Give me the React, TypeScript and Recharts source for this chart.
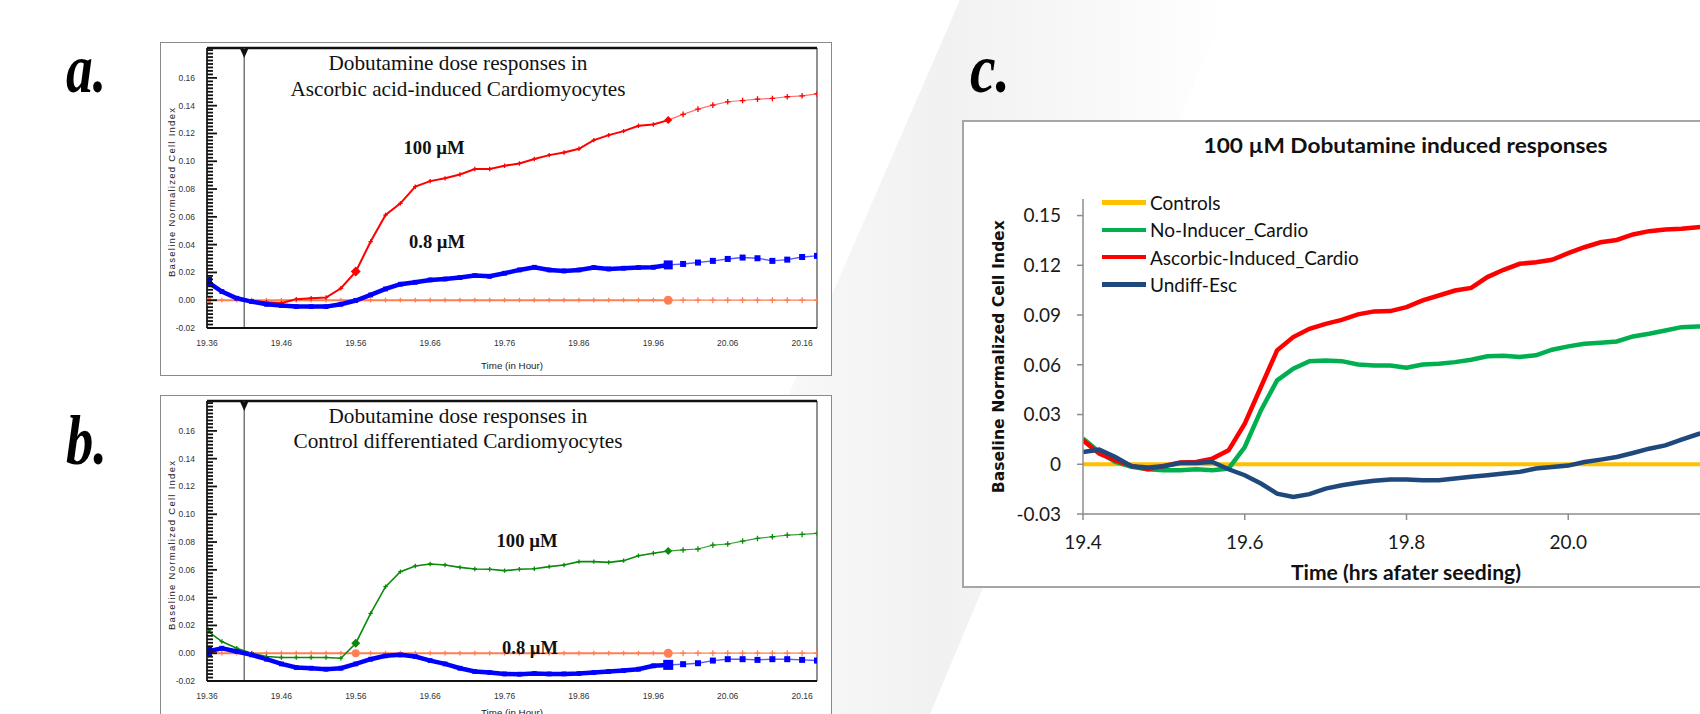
import React from 'react';
import {
  LineChart,
  Line,
  XAxis,
  YAxis,
  ReferenceArea,
  ReferenceLine,
  ReferenceDot,
  Legend,
} from 'recharts';

// panels a & b : instrument plots, sampled every 0.02 h
const TIME_AB = [
  19.36, 19.38, 19.4, 19.42, 19.44, 19.46, 19.48, 19.5, 19.52, 19.54, 19.56,
  19.58, 19.6, 19.62, 19.64, 19.66, 19.68, 19.7, 19.72, 19.74, 19.76, 19.78,
  19.8, 19.82, 19.84, 19.86, 19.88, 19.9, 19.92, 19.94, 19.96, 19.98, 20.0,
  20.02, 20.04, 20.06, 20.08, 20.1, 20.12, 20.14, 20.16, 20.18,
];
const A_RED_100 = [
  0.0146, 0.0062, 0.0014, -0.0005, -0.0014, -0.002, 0.0007, 0.0014, 0.0019,
  0.0086, 0.0206, 0.0422, 0.0613, 0.0697, 0.0817, 0.0857, 0.0877, 0.0905,
  0.0944, 0.0944, 0.0968, 0.0984, 0.1016, 0.1044, 0.1063, 0.109, 0.1152,
  0.1188, 0.1217, 0.1255, 0.1265, 0.1296, 0.1337, 0.1375, 0.1404, 0.1428,
  0.1437, 0.1447, 0.1452, 0.1464, 0.1471, 0.1485,
];
const A_BLUE_08 = [
  0.0134, 0.0062, 0.0014, -0.001, -0.0029, -0.0038, -0.0046, -0.0046, -0.0046,
  -0.0029, -0.0002, 0.0038, 0.0081, 0.0115, 0.0129, 0.0146, 0.0153, 0.0163,
  0.0177, 0.0172, 0.0194, 0.0218, 0.0237, 0.0218, 0.0211, 0.0218, 0.0235,
  0.0225, 0.023, 0.0235, 0.0237, 0.0254, 0.0261, 0.0271, 0.0283, 0.0297,
  0.0307, 0.0302, 0.0283, 0.0292, 0.0311, 0.0319,
];
const B_GREEN_100 = [
  0.0163, 0.0084, 0.0036, 0, -0.0024, -0.0031, -0.0031, -0.0031, -0.0031,
  -0.0036, 0.0072, 0.0287, 0.0479, 0.0587, 0.0628, 0.0642, 0.0635, 0.0618,
  0.0606, 0.0604, 0.0594, 0.0604, 0.0608, 0.0623, 0.0635, 0.0659, 0.0659,
  0.0654, 0.0666, 0.0702, 0.0719, 0.0735, 0.0743, 0.075, 0.0778, 0.0786,
  0.0807, 0.0826, 0.0838, 0.085, 0.0855, 0.0862,
];
const B_BLUE_08 = [
  0.0012, 0.0036, 0.0012, -0.0012, -0.0043, -0.0077, -0.0103, -0.0108, -0.0115,
  -0.0108, -0.0077, -0.0043, -0.0019, -0.0012, -0.0024, -0.0053, -0.0077,
  -0.0108, -0.0132, -0.0139, -0.0149, -0.0151, -0.0146, -0.0149, -0.0149,
  -0.0146, -0.0139, -0.0132, -0.0125, -0.0115, -0.0091, -0.0084, -0.0079,
  -0.0072, -0.0053, -0.0043, -0.0043, -0.0048, -0.0043, -0.0043, -0.0048,
  -0.0053,
];
const CTRL_AB = [
  0, 0, 0, 0, 0, 0, 0, 0, 0, 0, 0, 0, 0, 0, 0, 0, 0, 0, 0, 0, 0, 0, 0, 0, 0, 0,
  0, 0, 0, 0, 0, 0, 0, 0, 0, 0, 0, 0, 0, 0, 0, 0,
];
const AB_X_TICKS = [19.36, 19.46, 19.56, 19.66, 19.76, 19.86, 19.96, 20.06, 20.16];
const AB_Y_TICKS = [-0.02, 0, 0.02, 0.04, 0.06, 0.08, 0.1, 0.12, 0.14, 0.16];
const AB_X_DOMAIN = [19.36, 20.18];
const AB_Y_DOMAIN = [-0.02, 0.1815];
const DOSE_TIME = 19.41; // compound added
const SPLIT_T = 19.98; // logging gets sparser after this

// panel c : 100 uM responses
const TIME_C = [
  19.4, 19.42, 19.44, 19.46, 19.48, 19.5, 19.52, 19.54, 19.56, 19.58, 19.6,
  19.62, 19.64, 19.66, 19.68, 19.7, 19.72, 19.74, 19.76, 19.78, 19.8, 19.82,
  19.84, 19.86, 19.88, 19.9, 19.92, 19.94, 19.96, 19.98, 20.0, 20.02, 20.04,
  20.06, 20.08, 20.1, 20.12, 20.14, 20.16, 20.18,
];
const C_CONTROLS = [
  0, 0, 0, 0, 0, 0, 0, 0, 0, 0, 0, 0, 0, 0, 0, 0, 0, 0, 0, 0, 0, 0, 0, 0, 0, 0,
  0, 0, 0, 0, 0, 0, 0, 0, 0, 0, 0, 0, 0, 0,
];
const C_NO_INDUCER = [
  0.0155, 0.0074, 0.0014, -0.0016, -0.003, -0.0036, -0.0036, -0.003, -0.0036,
  -0.0026, 0.0104, 0.0325, 0.0506, 0.0576, 0.0622, 0.0626, 0.0622, 0.0602,
  0.0596, 0.0596, 0.0582, 0.0602, 0.0606, 0.0616, 0.063, 0.0651, 0.0655,
  0.0647, 0.0657, 0.0691, 0.0711, 0.0727, 0.0733, 0.0741, 0.0771, 0.0787,
  0.0807, 0.0827, 0.0831, 0.0834,
];
const C_ASCORBIC = [
  0.0145, 0.0064, 0.0024, -0.001, -0.003, -0.001, 0.001, 0.0014, 0.0034,
  0.0084, 0.0245, 0.0466, 0.0687, 0.0767, 0.0817, 0.0847, 0.0871, 0.0904,
  0.0922, 0.0924, 0.0948, 0.0988, 0.1018, 0.1048, 0.1064, 0.1129, 0.1173,
  0.1209, 0.1219, 0.1233, 0.1273, 0.1309, 0.1339, 0.1353, 0.1386, 0.1406,
  0.1416, 0.142, 0.143, 0.1435,
];
const C_UNDIFF = [
  0.0074, 0.0088, 0.0044, -0.0012, -0.002, -0.0012, 0.0008, 0.0008, 0.0014,
  -0.003, -0.0066, -0.0116, -0.0177, -0.0197, -0.018, -0.0147, -0.0127,
  -0.0112, -0.01, -0.0092, -0.0092, -0.0096, -0.0096, -0.0086, -0.0076,
  -0.0066, -0.0056, -0.0046, -0.0026, -0.0016, -0.0008, 0.0014, 0.0028,
  0.0044, 0.0068, 0.0094, 0.0114, 0.0149, 0.0181, 0.0205,
];
const C_SERIES = ['Controls', 'No-Inducer_Cardio', 'Ascorbic-Induced_Cardio', 'Undiff-Esc'];
const C_X_TICKS = [19.4, 19.6, 19.8, 20.0];
const C_Y_TICKS = [-0.03, 0, 0.03, 0.06, 0.09, 0.12, 0.15];

const SANS = 'Liberation Sans, Arial, sans-serif';
const SERIF = 'Liberation Serif, Times New Roman, serif';
const CALIBRI = 'Lato, Carlito, sans-serif';

// ruler ticks on the instrument y axis (every 0.0025, labelled every 0.02)
const AB_MINOR: number[] = [];
for (let v = -0.02; v <= 0.1801; v += 0.0025) AB_MINOR.push(+v.toFixed(4));

function AbYTick(p: any) {
  const { x, y, payload } = p;
  const v = payload.value;
  const major = AB_Y_TICKS.some((m) => Math.abs(m - v) < 1e-6);
  const plotLeft = x + 12; // tickSize + tickMargin
  return (
    <g>
      <line x1={plotLeft} x2={plotLeft + (major ? 10 : 6)} y1={y} y2={y} stroke="#111" strokeWidth={1.8} />
      {major && (
        <text x={x} y={y} dy={3} textAnchor="end" fontSize={8.5} fill="#333" fontFamily={SANS}>
          {v.toFixed(2)}
        </text>
      )}
    </g>
  );
}

type Shape = 'plus' | 'square' | 'circle' | 'diamond';
type Big = { t: number; shape: Shape; r: number };

function drawShape(key: string, shape: Shape, cx: number, cy: number, s: number, color: string) {
  if (shape === 'plus')
    return (
      <path key={key} d={`M${cx - s},${cy}H${cx + s}M${cx},${cy - s}V${cy + s}`} stroke={color} strokeWidth={1.3} fill="none" />
    );
  if (shape === 'square')
    return <rect key={key} x={cx - s} y={cy - s} width={s * 2} height={s * 2} fill={color} />;
  if (shape === 'circle') return <circle key={key} cx={cx} cy={cy} r={s} fill={color} />;
  return (
    <path key={key} d={`M${cx},${cy - s}L${cx + s},${cy}L${cx},${cy + s}L${cx - s},${cy}Z`} fill={color} />
  );
}

function markerDot(color: string, shape: Shape, r: number, bigs: Big[] = []) {
  return (p: any) => {
    const { cx, cy, index, payload, value } = p;
    const key = `m-${index}`;
    if (cx == null || cy == null || value == null || payload == null) return <g key={key} />;
    const big = bigs.find((b) => Math.abs(b.t - payload.t) < 1e-6);
    return drawShape(key, big ? big.shape : shape, cx, cy, big ? big.r : r, color);
  };
}

type Trace = {
  key: string;
  values: number[];
  color: string;
  sparseColor: string;
  shape: Shape;
  denseWidth: number;
  sparseWidth: number;
  r: number;
  bigs: Big[];
};

function buildRows(traces: Trace[]) {
  return TIME_AB.map((t, i) => {
    const row: Record<string, number | null> = { t };
    traces.forEach((tr) => {
      row[tr.key + 'D'] = t <= SPLIT_T + 1e-9 ? tr.values[i] : null;
      row[tr.key + 'S'] = t >= SPLIT_T - 1e-9 ? tr.values[i] : null;
    });
    return row;
  });
}

function InstrumentPanel({ traces }: { traces: Trace[] }) {
  const rows = buildRows(traces);
  return (
    <LineChart width={672} height={334} data={rows} margin={{ top: 6, right: 15, left: 0, bottom: 0 }}>
      <XAxis
        dataKey="t"
        type="number"
        domain={AB_X_DOMAIN}
        ticks={AB_X_TICKS}
        interval={0}
        allowDataOverflow
        tickFormatter={(v: number) => v.toFixed(2)}
        height={48}
        tickLine={false}
        tickSize={8}
        tickMargin={4}
        axisLine={{ stroke: '#111', strokeWidth: 2 }}
        tick={{ fontSize: 8.5, fill: '#333', fontFamily: SANS }}
      />
      <YAxis
        yAxisId="main"
        type="number"
        width={47}
        domain={AB_Y_DOMAIN}
        allowDataOverflow
        ticks={AB_MINOR}
        interval={0}
        tickLine={false}
        axisLine={{ stroke: '#111', strokeWidth: 1.5 }}
        tickSize={8}
        tickMargin={4}
        tick={AbYTick}
      />
      <ReferenceArea
        yAxisId="main"
        x1={AB_X_DOMAIN[0]}
        x2={AB_X_DOMAIN[1]}
        y1={AB_Y_DOMAIN[0]}
        y2={AB_Y_DOMAIN[1]}
        fill="none"
        stroke="#222"
        strokeWidth={1}
      />
      <ReferenceLine yAxisId="main" y={AB_Y_DOMAIN[1]} stroke="#111" strokeWidth={2.5} />
      <ReferenceLine yAxisId="main" x={DOSE_TIME} stroke="#555" strokeWidth={1.2} />
      <ReferenceDot
        yAxisId="main"
        x={DOSE_TIME}
        y={AB_Y_DOMAIN[1]}
        shape={(p: any) => (
          <path d={`M${p.cx - 4},${p.cy + 1}L${p.cx + 4},${p.cy + 1}L${p.cx},${p.cy + 10}Z`} fill="#111" />
        )}
      />
      {traces.flatMap((tr) => [
        <Line
          key={tr.key + 'D'}
          yAxisId="main"
          dataKey={tr.key + 'D'}
          stroke={tr.color}
          strokeWidth={tr.denseWidth}
          dot={markerDot(tr.color, tr.shape, tr.r, tr.bigs)}
          activeDot={false}
          isAnimationActive={false}
        />,
        <Line
          key={tr.key + 'S'}
          yAxisId="main"
          dataKey={tr.key + 'S'}
          stroke={tr.sparseColor}
          strokeWidth={tr.sparseWidth}
          dot={markerDot(tr.color, tr.shape, tr.r + 0.6)}
          activeDot={false}
          isAnimationActive={false}
        />,
      ])}
    </LineChart>
  );
}

const CORAL = '#FF7F55';

const TRACES_A: Trace[] = [
  {
    key: 'ctrl', values: CTRL_AB, color: CORAL, sparseColor: CORAL, shape: 'plus',
    denseWidth: 2, sparseWidth: 1.3, r: 2.4,
    bigs: [{ t: 19.36, shape: 'circle', r: 4.5 }, { t: 19.98, shape: 'circle', r: 4.5 }],
  },
  {
    key: 'red', values: A_RED_100, color: '#FF0000', sparseColor: '#FF7070', shape: 'plus',
    denseWidth: 2, sparseWidth: 1.2, r: 2.2,
    bigs: [{ t: 19.56, shape: 'diamond', r: 5 }, { t: 19.98, shape: 'diamond', r: 4 }],
  },
  {
    key: 'blue', values: A_BLUE_08, color: '#0000FF', sparseColor: '#5A5AFF', shape: 'square',
    denseWidth: 4.5, sparseWidth: 1.4, r: 2.4,
    bigs: [{ t: 19.36, shape: 'square', r: 5 }, { t: 19.98, shape: 'square', r: 4.5 }],
  },
];

const TRACES_B: Trace[] = [
  {
    key: 'ctrl', values: CTRL_AB, color: CORAL, sparseColor: CORAL, shape: 'plus',
    denseWidth: 2, sparseWidth: 1.3, r: 2.4,
    bigs: [
      { t: 19.36, shape: 'circle', r: 4.5 },
      { t: 19.56, shape: 'circle', r: 4 },
      { t: 19.98, shape: 'circle', r: 4.5 },
    ],
  },
  {
    key: 'green', values: B_GREEN_100, color: '#0A8A0A', sparseColor: '#3CA03C', shape: 'plus',
    denseWidth: 1.6, sparseWidth: 1.2, r: 2.2,
    bigs: [
      { t: 19.36, shape: 'diamond', r: 4.5 },
      { t: 19.56, shape: 'diamond', r: 4.5 },
      { t: 19.98, shape: 'diamond', r: 4 },
    ],
  },
  {
    key: 'blue', values: B_BLUE_08, color: '#0000FF', sparseColor: '#5A5AFF', shape: 'square',
    denseWidth: 4.5, sparseWidth: 1.4, r: 2.4,
    bigs: [{ t: 19.36, shape: 'square', r: 5 }, { t: 19.98, shape: 'square', r: 5 }],
  },
];

const rowsC = TIME_C.map((t, i) => ({
  t,
  controls: C_CONTROLS[i],
  noInducer: C_NO_INDUCER[i],
  ascorbic: C_ASCORBIC[i],
  undiff: C_UNDIFF[i],
}));

const tickC = { fontSize: 19, fill: '#1a1a1a', fontFamily: CALIBRI };

function LegendC(props: any) {
  const payload = [...(props.payload || [])].sort(
    (a: any, b: any) => C_SERIES.indexOf(a.value) - C_SERIES.indexOf(b.value)
  );
  return (
    <div>
      {payload.map((e: any) => (
        <div key={e.value} style={{ display: 'flex', alignItems: 'center', height: 27.3 }}>
          <span style={{ width: 44, height: 4.5, background: e.color, marginRight: 4 }} />
          <span style={{ fontFamily: CALIBRI, fontSize: 19, color: '#111', whiteSpace: 'nowrap' }}>{e.value}</span>
        </div>
      ))}
    </div>
  );
}

function ResponsesChart() {
  return (
    <LineChart width={900} height={468} data={rowsC} margin={{ top: 79, right: 132, left: 0, bottom: 0 }}>
      <XAxis
        dataKey="t"
        type="number"
        domain={[19.4, 20.2]}
        ticks={C_X_TICKS}
        interval={0}
        allowDataOverflow
        tickFormatter={(v: number) => v.toFixed(1)}
        height={74}
        tickSize={6}
        tickMargin={15.5}
        axisLine={{ stroke: '#8c8c8c', strokeWidth: 1.5 }}
        tickLine={{ stroke: '#8c8c8c', strokeWidth: 1.5 }}
        tick={tickC}
      />
      <YAxis
        type="number"
        domain={[-0.03, 0.16]}
        ticks={C_Y_TICKS}
        interval={0}
        allowDataOverflow
        tickFormatter={(v: number) => (v === 0 ? '0' : v.toFixed(2))}
        width={121}
        tickSize={6}
        tickMargin={16}
        axisLine={{ stroke: '#8c8c8c', strokeWidth: 1.5 }}
        tickLine={{ stroke: '#8c8c8c', strokeWidth: 1.5 }}
        tick={tickC}
      />
      <Legend
        layout="vertical"
        align="center"
        verticalAlign="middle"
        wrapperStyle={{ left: 140, top: 69, width: 320, height: 110 }}
        content={LegendC}
      />
      <Line dataKey="controls" name={C_SERIES[0]} stroke="#FFC000" strokeWidth={4} dot={false} activeDot={false} isAnimationActive={false} />
      <Line dataKey="noInducer" name={C_SERIES[1]} stroke="#00B050" strokeWidth={4.5} dot={false} activeDot={false} isAnimationActive={false} />
      <Line dataKey="ascorbic" name={C_SERIES[2]} stroke="#FF0000" strokeWidth={4.5} dot={false} activeDot={false} isAnimationActive={false} />
      <Line dataKey="undiff" name={C_SERIES[3]} stroke="#1F497D" strokeWidth={4.5} dot={false} activeDot={false} isAnimationActive={false} />
    </LineChart>
  );
}

const abs = (left: number, top: number): React.CSSProperties => ({ position: 'absolute', left, top });

export default function App() {
  return (
    <div style={{ position: 'fixed', left: 0, top: 0, width: 1700, height: 714, overflow: 'hidden', background: '#fff' }}>
      <svg width={1700} height={714} style={abs(0, 0)}>
        <defs>
          <linearGradient id="sheen" x1="0" y1="0" x2="1" y2="0">
            <stop offset="0" stopColor="#fff" />
            <stop offset="0.5" stopColor="#f1f1f1" />
            <stop offset="1" stopColor="#fff" />
          </linearGradient>
        </defs>
        <polygon points="960,0 1230,0 930,714 650,714" fill="url(#sheen)" />
      </svg>

      <div style={{ ...abs(160, 42), width: 672, height: 334, border: '1.5px solid #8a8a8a', boxSizing: 'border-box', background: '#fff' }} />
      <div style={{ ...abs(160, 395), width: 672, height: 334, border: '1.5px solid #8a8a8a', boxSizing: 'border-box', background: '#fff' }} />
      <div style={{ ...abs(962, 120), width: 900, height: 468, border: '2px solid #a6a6a6', boxSizing: 'border-box', background: '#fff' }} />

      <div style={abs(160, 42)}>
        <InstrumentPanel traces={TRACES_A} />
      </div>
      <div style={abs(160, 395)}>
        <InstrumentPanel traces={TRACES_B} />
      </div>
      <div style={abs(962, 120)}>
        <ResponsesChart />
      </div>

      <svg width={1700} height={714} style={{ ...abs(0, 0), pointerEvents: 'none' }}>
        <g fontFamily={SERIF} fontWeight="bold" fontStyle="italic" fontSize={70} fill="#000">
          <text x={66} y={91.5} textLength={40} lengthAdjust="spacingAndGlyphs">a.</text>
          <text x={66} y={464} textLength={41} lengthAdjust="spacingAndGlyphs">b.</text>
          <text x={970} y={91.5} textLength={40} lengthAdjust="spacingAndGlyphs">c.</text>
        </g>

        <g fontFamily={SERIF} fontSize={21} fill="#111" textAnchor="middle">
          <text x={458} y={70} textLength={259} lengthAdjust="spacingAndGlyphs">Dobutamine dose responses in</text>
          <text x={458} y={95.5} textLength={335} lengthAdjust="spacingAndGlyphs">Ascorbic acid-induced Cardiomyocytes</text>
          <text x={458} y={423} textLength={259} lengthAdjust="spacingAndGlyphs">Dobutamine dose responses in</text>
          <text x={458} y={448} textLength={329} lengthAdjust="spacingAndGlyphs">Control differentiated Cardiomyocytes</text>
        </g>
        <g fontFamily={SERIF} fontSize={19.5} fontWeight="bold" fill="#111" textAnchor="middle">
          <text x={434} y={154} textLength={61} lengthAdjust="spacingAndGlyphs">100 µM</text>
          <text x={437} y={248} textLength={56} lengthAdjust="spacingAndGlyphs">0.8 µM</text>
          <text x={527} y={546.5} textLength={61} lengthAdjust="spacingAndGlyphs">100 µM</text>
          <text x={530} y={654} textLength={56} lengthAdjust="spacingAndGlyphs">0.8 µM</text>
        </g>
        <g fontFamily={SANS} fontSize={9.5} fill="#222" textAnchor="middle">
          <text x={512} y={368.5} textLength={62} lengthAdjust="spacingAndGlyphs">Time (in Hour)</text>
          <text x={512} y={716} textLength={62} lengthAdjust="spacingAndGlyphs">Time (in Hour)</text>
          <text transform="translate(175,192.5) rotate(-90)" textLength={169} lengthAdjust="spacing">
            Baseline Normalized Cell Index
          </text>
          <text transform="translate(175,545.5) rotate(-90)" textLength={169} lengthAdjust="spacing">
            Baseline Normalized Cell Index
          </text>
        </g>

        <text x={1405.5} y={152.5} textAnchor="middle" fontFamily={CALIBRI} fontWeight="bold" fontSize={21} fill="#111" textLength={404} lengthAdjust="spacingAndGlyphs">
          100 µM Dobutamine induced responses
        </text>
        <text x={1406} y={580} textAnchor="middle" fontFamily={CALIBRI} fontWeight="bold" fontSize={20} fill="#111" textLength={230} lengthAdjust="spacingAndGlyphs">
          Time (hrs afater seeding)
        </text>
        <text transform="translate(1004,356.7) rotate(-90)" textAnchor="middle" fontFamily="DejaVu Sans, Verdana, sans-serif" fontWeight="bold" fontSize={16} fill="#111" textLength={273} lengthAdjust="spacingAndGlyphs">
          Baseline Normalized Cell Index
        </text>
      </svg>
    </div>
  );
}
